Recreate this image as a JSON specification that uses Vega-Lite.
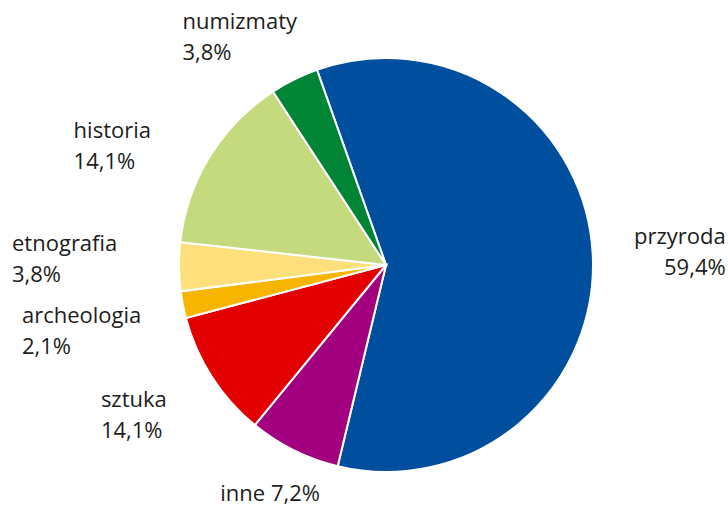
{
  "$schema": "https://vega.github.io/schema/vega-lite/v6.json",
  "width": 684,
  "height": 484,
  "autosize": {"type": "none"},
  "padding": {"left": 44, "top": 23, "right": 0, "bottom": 0},
  "background": "white",
  "view": {"stroke": null},
  "data": {
    "values": [
      {"name": "przyroda", "label": "przyroda\n59,4%", "value": 59.4, "order": 1},
      {"name": "inne", "label": "inne 7,2%", "value": 7.2, "order": 2},
      {"name": "sztuka", "label": "sztuka\n14,1%", "value": 10.0, "order": 3},
      {"name": "archeologia", "label": "archeologia\n2,1%", "value": 2.1, "order": 4},
      {"name": "etnografia", "label": "etnografia\n3,8%", "value": 3.8, "order": 5},
      {"name": "historia", "label": "historia\n14,1%", "value": 14.1, "order": 6},
      {"name": "numizmaty", "label": "numizmaty\n3,8%", "value": 3.8, "order": 7}
    ]
  },
  "encoding": {
    "theta": {"field": "value", "type": "quantitative", "stack": true, "scale": {"range": [-0.34, 5.9432]}},
    "order": {"field": "order", "type": "quantitative"}
  },
  "layer": [
    {
      "mark": {"type": "arc", "outerRadius": 207, "stroke": "white", "strokeWidth": 2},
      "encoding": {
        "color": {
          "field": "name",
          "type": "nominal",
          "legend": null,
          "scale": {
            "domain": ["przyroda", "inne", "sztuka", "archeologia", "etnografia", "historia", "numizmaty"],
            "range": ["#004f9f", "#a2007e", "#e30000", "#f7b500", "#fddf7b", "#c5d97e", "#008537"]
          }
        }
      }
    },
    {
      "mark": {
        "type": "text",
        "radius": 256,
        "font": "Open Sans",
        "fontSize": 22,
        "lineHeight": 31,
        "lineBreak": "\n",
        "baseline": "middle",
        "color": "#1d1d1b",
        "align": {"expr": "datum.name == 'przyroda' ? 'right' : (datum.name == 'inne' ? 'center' : 'left')"},
        "dx": {"expr": "(datum.name == 'przyroda' ? 84 : (datum.name == 'inne' ? -2 : -10.8 * indexof(datum.label, '\\n'))) + (datum.name == 'numizmaty' ? 7 : (datum.name == 'historia' ? -8 : (datum.name == 'etnografia' ? -10 : (datum.name == 'archeologia' ? 6 : (datum.name == 'sztuka' ? -5 : 0)))))"},
        "dy": {"expr": "(indexof(datum.label, '\\n') > 0 ? -15 : 0) + (datum.name == 'numizmaty' ? 2 : (datum.name == 'historia' ? 15 : (datum.name == 'etnografia' ? -8 : (datum.name == 'archeologia' ? 17 : (datum.name == 'sztuka' ? 12 : 0)))))"}
      },
      "encoding": {
        "text": {"field": "label", "type": "nominal"}
      }
    }
  ]
}
